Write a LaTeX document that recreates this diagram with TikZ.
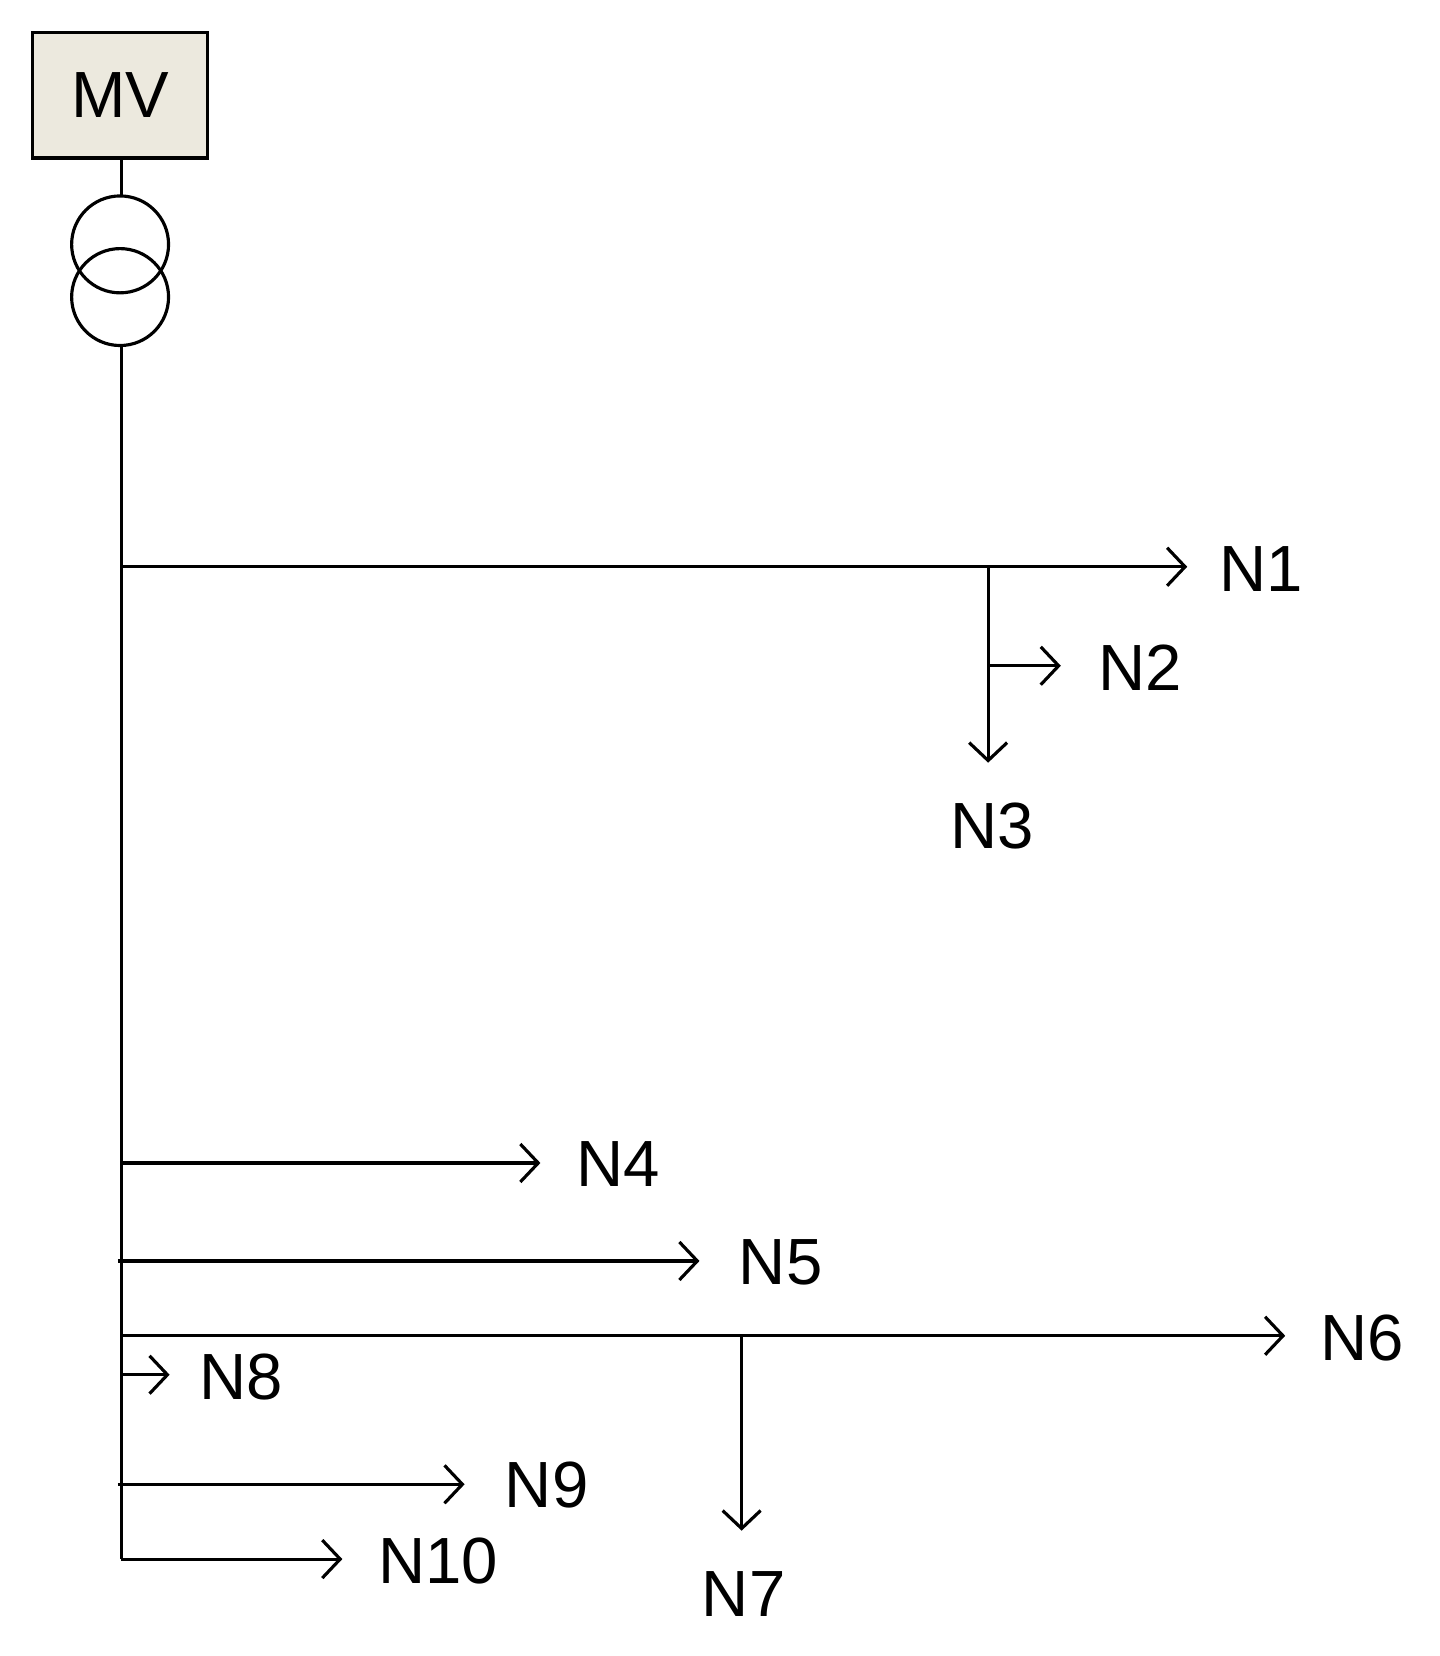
\documentclass[tikz,border=0pt]{standalone}
\usepackage{fontspec}
\setmainfont{Liberation Sans}
\usetikzlibrary{arrows.meta}
\definecolor{boxfill}{RGB}{236,233,222}
\begin{document}
\begin{tikzpicture}[x=0.5pt,y=-0.5pt,line width=1.5pt,
  arr/.style={-{Straight Barb[length=8.5pt,width=18pt,line width=1.5pt]}},
  lbl/.style={font=\fontsize{31}{31}\selectfont,inner sep=0pt}]
\useasboundingbox (0,0) rectangle (1366,1572);
\node[draw,fill=boxfill,minimum width=83pt,minimum height=59.5pt,inner sep=0pt,lbl] (mv) at (114,90.5) {MV};
\draw (115,150) -- (115,186);
\draw (114,232) circle (46);
\draw (114,282) circle (46);
\coordinate (top) at (115,328);
\coordinate (bot) at (115,1480);
\draw (top) -- (bot);
\coordinate (b1) at (115,538); \coordinate (e1) at (1127,538);
\coordinate (b2) at (938,632); \coordinate (e2) at (1007,632);
\coordinate (b3) at (938,538); \coordinate (e3) at (938,724);
\coordinate (b4) at (115,1104); \coordinate (e4) at (513,1104);
\coordinate (b5) at (112,1197); \coordinate (e5) at (664,1197);
\coordinate (b6) at (115,1268); \coordinate (e6) at (1220,1268);
\coordinate (b7) at (704,1268); \coordinate (e7) at (704,1453);
\coordinate (b8) at (115,1305); \coordinate (e8) at (161,1305);
\coordinate (b9) at (112,1409); \coordinate (e9) at (441,1409);
\coordinate (e10) at (325,1480);
\node[lbl] (n1) at (1197,540) {N1};
\node[lbl] (n2) at (1082,634) {N2};
\node[lbl] (n3) at (942,784) {N3};
\node[lbl] (n4) at (587,1105) {N4};
\node[lbl] (n5) at (741,1198) {N5};
\node[lbl] (n6) at (1293,1270) {N6};
\node[lbl] (n7) at (706,1513) {N7};
\node[lbl] (n8) at (229,1307) {N8};
\node[lbl] (n9) at (519,1410) {N9};
\node[lbl] (n10) at (416,1482) {N10};
\draw[arr] (b1) -- (e1);
\draw[arr] (b3) -- (e3);
\draw[arr] (b2) -- (e2);
\draw[arr] (b4) -- (e4);
\draw[arr] (b5) -- (e5);
\draw[arr] (b6) -- (e6);
\draw[arr] (b7) -- (e7);
\draw[arr] (b8) -- (e8);
\draw[arr] (b9) -- (e9);
\draw[arr] (bot) -- (e10);
\end{tikzpicture}
\end{document}
